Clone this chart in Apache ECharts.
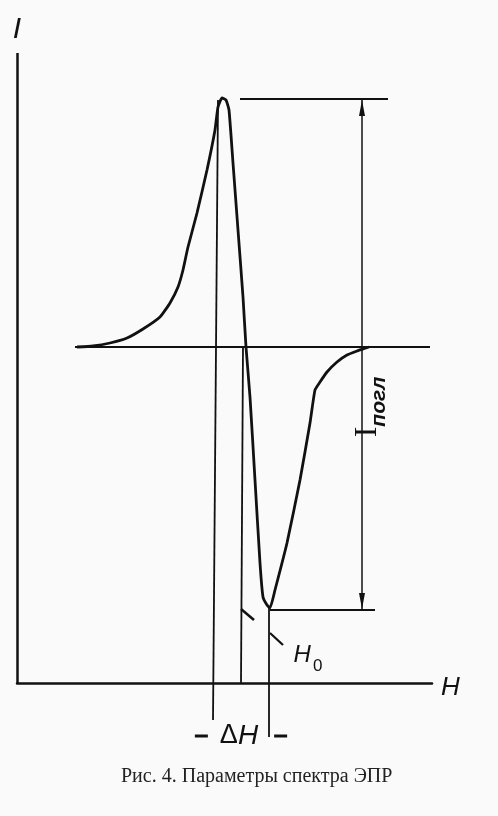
<!DOCTYPE html>
<html>
<head>
<meta charset="utf-8">
<script src="https://cdn.jsdelivr.net/npm/echarts@6/dist/echarts.min.js"></script>
<style>
  html, body { margin: 0; padding: 0; background: #fafafa; }
  #chart { width: 498px; height: 816px; }
</style>
</head>
<body>
<div id="chart"></div>
<script>
// EPR spectrum curve (H - field, I - signal), arbitrary units
const H_curve = [60, 76, 93, 110, 126, 143, 153, 161, 166, 171, 180, 190, 198, 201, 205, 209, 212, 216, 221, 226, 229, 233, 238, 243, 246, 250, 253, 258, 270, 283, 293, 298, 303, 310, 320, 330, 340, 346, 352];
const I_curve = [336, 337, 340, 345, 354, 366, 380, 396, 413, 436, 470, 513, 553, 576, 585, 583, 573, 520, 453, 386, 336, 286, 203, 120, 86, 78, 75, 93, 140, 203, 260, 293, 301, 311, 321, 328, 332, 334, 336];

// construction levels
const baselineI = 336;
const peakI = 584;
const minI = 73;
const H_peak = 201;
const H_zero = 226;
const H_min = 252;
const H_arrow = 345;

const labels = {
  yName: 'I',
  xName: 'H',
  absorb: 'I',
  absorbSub: 'погл',
  h0: 'H',
  h0Sub: '0',
  delta: 'Δ',
  dH: 'H',
  caption: 'Рис. 4. Параметры спектра ЭПР'
};

const ink = '#111';
const chart = echarts.init(document.getElementById('chart'));

function seg(a, b, w) {
  return [{ coord: a, lineStyle: { width: w, color: ink, type: 'solid' } }, { coord: b }];
}

const option = {
  backgroundColor: '#fafafa',
  animation: false,
  title: {
    text: labels.caption,
    left: 121,
    top: 767,
    padding: 0,
    textStyle: { fontFamily: 'Liberation Serif', fontSize: 20, fontWeight: 'normal', color: '#222' }
  },
  grid: { left: 17, right: 66, top: 53, bottom: 76 },
  xAxis: {
    type: 'value', min: 0, max: 415,
    name: labels.xName, nameLocation: 'end', nameGap: 9,
    nameTextStyle: { fontFamily: 'Liberation Sans', fontStyle: 'italic', fontSize: 26, color: ink, verticalAlign: 'top', lineHeight: 9 },
    axisLine: { show: true, onZero: true, lineStyle: { color: ink, width: 2.5 } },
    axisTick: { show: false }, axisLabel: { show: false }, splitLine: { show: false }
  },
  yAxis: {
    type: 'value', min: -57, max: 630,
    name: labels.yName, nameLocation: 'end', nameGap: 8,
    nameTextStyle: { fontFamily: 'Liberation Sans', fontStyle: 'italic', fontSize: 30, color: ink, align: 'center' },
    axisLine: { show: false },
    axisTick: { show: false }, axisLabel: { show: false }, splitLine: { show: false }
  },
  series: [
    {
      type: 'line',
      data: H_curve.map((h, i) => [h, I_curve[i]]),
      symbol: 'none',
      smooth: 0.15,
      lineStyle: { color: ink, width: 2.8 },
      silent: true,
      z: 5,
      markLine: {
        silent: true,
        symbol: 'none',
        label: { show: false },
        emphasis: { disabled: true },
        data: [
          seg([0, 0], [0, 630], 2.5),
          seg([58, baselineI], [413, baselineI], 1.8),
          seg([223, peakI], [371, peakI], 2.2),
          seg([H_min + 1, minI], [358, minI], 2.2),
          seg([H_arrow, peakI], [H_arrow, minI], 1.5),
          seg([H_peak, peakI - 1], [H_peak - 5, -37], 1.8),
          seg([H_zero, baselineI], [H_zero - 2, 0], 1.8),
          seg([H_min, minI + 2], [H_min, -54], 1.8),
          seg([224, 74], [237, 63], 2.5),
          seg([253, 50], [266, 38], 2.2)
        ]
      }
    },
    {
      type: 'scatter',
      silent: true,
      symbol: 'triangle',
      symbolSize: [6, 16],
      itemStyle: { color: ink, opacity: 1 },
      data: [
        { value: [H_arrow, peakI - 9], symbolRotate: 0 },
        { value: [H_arrow, minI + 9], symbolRotate: 180 }
      ],
      z: 6
    },
    {
      type: 'scatter',
      silent: true,
      symbolSize: 1,
      itemStyle: { color: 'rgba(0,0,0,0)', opacity: 1 },
      emphasis: { disabled: true },
      data: [
        {
          value: [354, 276],
          label: {
            show: true, position: 'inside', rotate: 90, color: ink, textBorderWidth: 0,
            formatter: '{a|' + labels.absorb + '}{b|' + labels.absorbSub + '}',
            rich: {
              a: { fontFamily: 'Liberation Serif', fontSize: 32, color: ink, lineHeight: 38, verticalAlign: 'top' },
              b: { fontFamily: 'Liberation Sans', fontStyle: 'italic', fontWeight: 'bold', fontSize: 21, color: ink, lineHeight: 38, verticalAlign: 'bottom' }
            }
          }
        },
        {
          value: [291, 24],
          label: {
            show: true, position: 'inside', color: ink, textBorderWidth: 0,
            formatter: '{h|' + labels.h0 + '}{s|' + labels.h0Sub + '}',
            rich: {
              h: { fontFamily: 'Liberation Sans', fontStyle: 'italic', fontSize: 24, color: ink, lineHeight: 32, verticalAlign: 'top' },
              s: { fontFamily: 'Liberation Sans', fontSize: 17, color: ink, lineHeight: 32, verticalAlign: 'bottom', padding: [0, 0, 0, 2] }
            }
          }
        },
        {
          value: [224, -53],
          label: {
            show: true, position: 'inside', color: ink, textBorderWidth: 0,
            formatter: '{d| }{g| }{del|' + labels.delta + '}{h|' + labels.dH + '}{g2| }{d| }',
            rich: {
              d: { width: 13, height: 3, backgroundColor: ink, verticalAlign: 'middle' },
              g: { width: 12 },
              g2: { width: 16 },
              del: { fontFamily: 'Liberation Sans', fontSize: 27, color: ink },
              h: { fontFamily: 'Liberation Sans', fontStyle: 'italic', fontSize: 28, color: ink }
            }
          }
        }
      ],
      z: 7
    }
  ]
};
chart.setOption(option);
</script>
</body>
</html>
